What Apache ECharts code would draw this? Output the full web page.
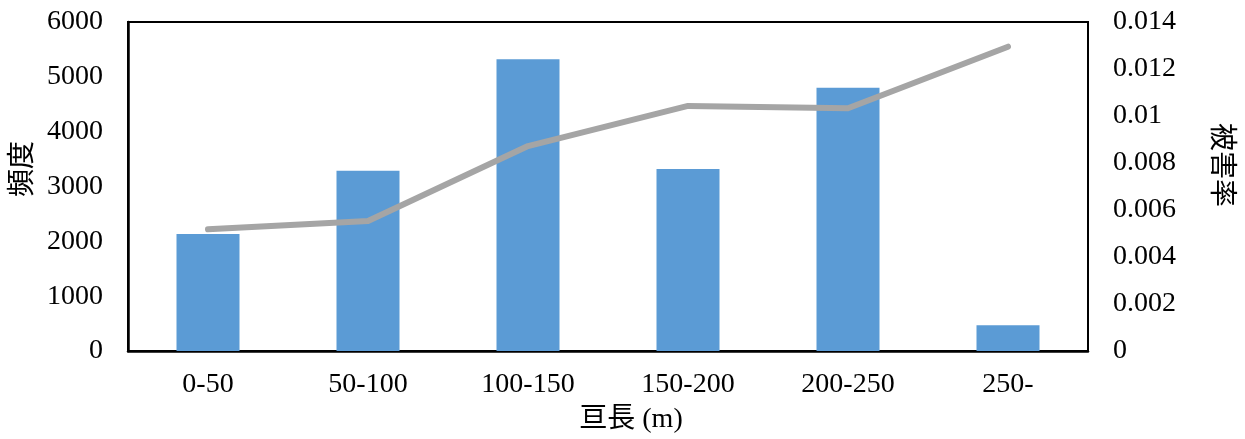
<!DOCTYPE html>
<html>
<head>
<meta charset="utf-8">
<script src="https://cdn.jsdelivr.net/npm/echarts@6/dist/echarts.min.js"></script>
<style>
  html, body { margin: 0; padding: 0; background: #fff; }
  #chart { width: 1245px; height: 439px; }
</style>
</head>
<body>
<div id="chart"></div>
<script>
// Span-length classes (m)
const categories = ['0-50', '50-100', '100-150', '150-200', '200-250', '250-'];
// Frequency per class (left axis)
const frequency = [2135, 3285, 5320, 3320, 4800, 470];
// Damage rate per class (right axis)
const damageRate = [0.00518, 0.00553, 0.00872, 0.01043, 0.01033, 0.01295];

const leftTicks = { min: 0, max: 6000, interval: 1000 };
const rightTicks = { min: 0, max: 0.014, interval: 0.002 };

const FONT = "'Liberation Serif', 'Noto Sans CJK JP', serif";
const FS = 28;

const chart = echarts.init(document.getElementById('chart'), null, { renderer: 'canvas' });

chart.setOption({
  backgroundColor: '#ffffff',
  animation: false,
  grid: {
    left: 128, right: 157, top: 22, bottom: 88,
    show: true, borderColor: '#000', borderWidth: 2, backgroundColor: 'transparent'
  },
  xAxis: {
    type: 'category',
    data: categories,
    axisLine: { show: true, lineStyle: { color: '#000', width: 2.5 } },
    axisTick: { show: false },
    axisLabel: { color: '#000', fontFamily: FONT, fontSize: FS, margin: 20 }
  },
  yAxis: [
    {
      type: 'value',
      min: leftTicks.min, max: leftTicks.max, interval: leftTicks.interval,
      axisLine: { show: true, lineStyle: { color: '#000', width: 2.5 } },
      axisTick: { show: false },
      splitLine: { show: false },
      axisLabel: {
        color: '#000', fontFamily: FONT, fontSize: FS, margin: 25,
        formatter: v => String(v)
      }
    },
    {
      type: 'value',
      position: 'right',
      min: rightTicks.min, max: rightTicks.max, interval: rightTicks.interval,
      axisLine: { show: true, lineStyle: { color: '#000', width: 2 } },
      axisTick: { show: false },
      splitLine: { show: false },
      axisLabel: {
        color: '#000', fontFamily: FONT, fontSize: FS, margin: 25,
        formatter: v => String(parseFloat(v.toFixed(3)))
      }
    }
  ],
  series: [
    {
      name: '頻度',
      type: 'bar',
      yAxisIndex: 0,
      data: frequency,
      barWidth: 63,
      itemStyle: { color: '#5B9BD5' }
    },
    {
      name: '被害率',
      type: 'line',
      yAxisIndex: 1,
      data: damageRate,
      showSymbol: false,
      symbol: 'none',
      lineStyle: { color: '#A5A5A5', width: 6, cap: 'round', join: 'round' },
      z: 5
    }
  ],
  graphic: [
    {
      type: 'text', x: 24, y: 169, rotation: Math.PI / 2,
      style: { text: '頻度', font: `${FS}px ${FONT}`, fill: '#000', textAlign: 'center', textVerticalAlign: 'middle' }
    },
    {
      type: 'text', x: 1220, y: 165, rotation: -Math.PI / 2,
      style: { text: '被害率', font: `${FS}px ${FONT}`, fill: '#000', textAlign: 'center', textVerticalAlign: 'middle' }
    },
    {
      type: 'text', x: 631, y: 420,
      style: { text: '亘長 (m)', font: `${FS}px ${FONT}`, fill: '#000', textAlign: 'center', textVerticalAlign: 'middle' }
    }
  ]
});
</script>
</body>
</html>
